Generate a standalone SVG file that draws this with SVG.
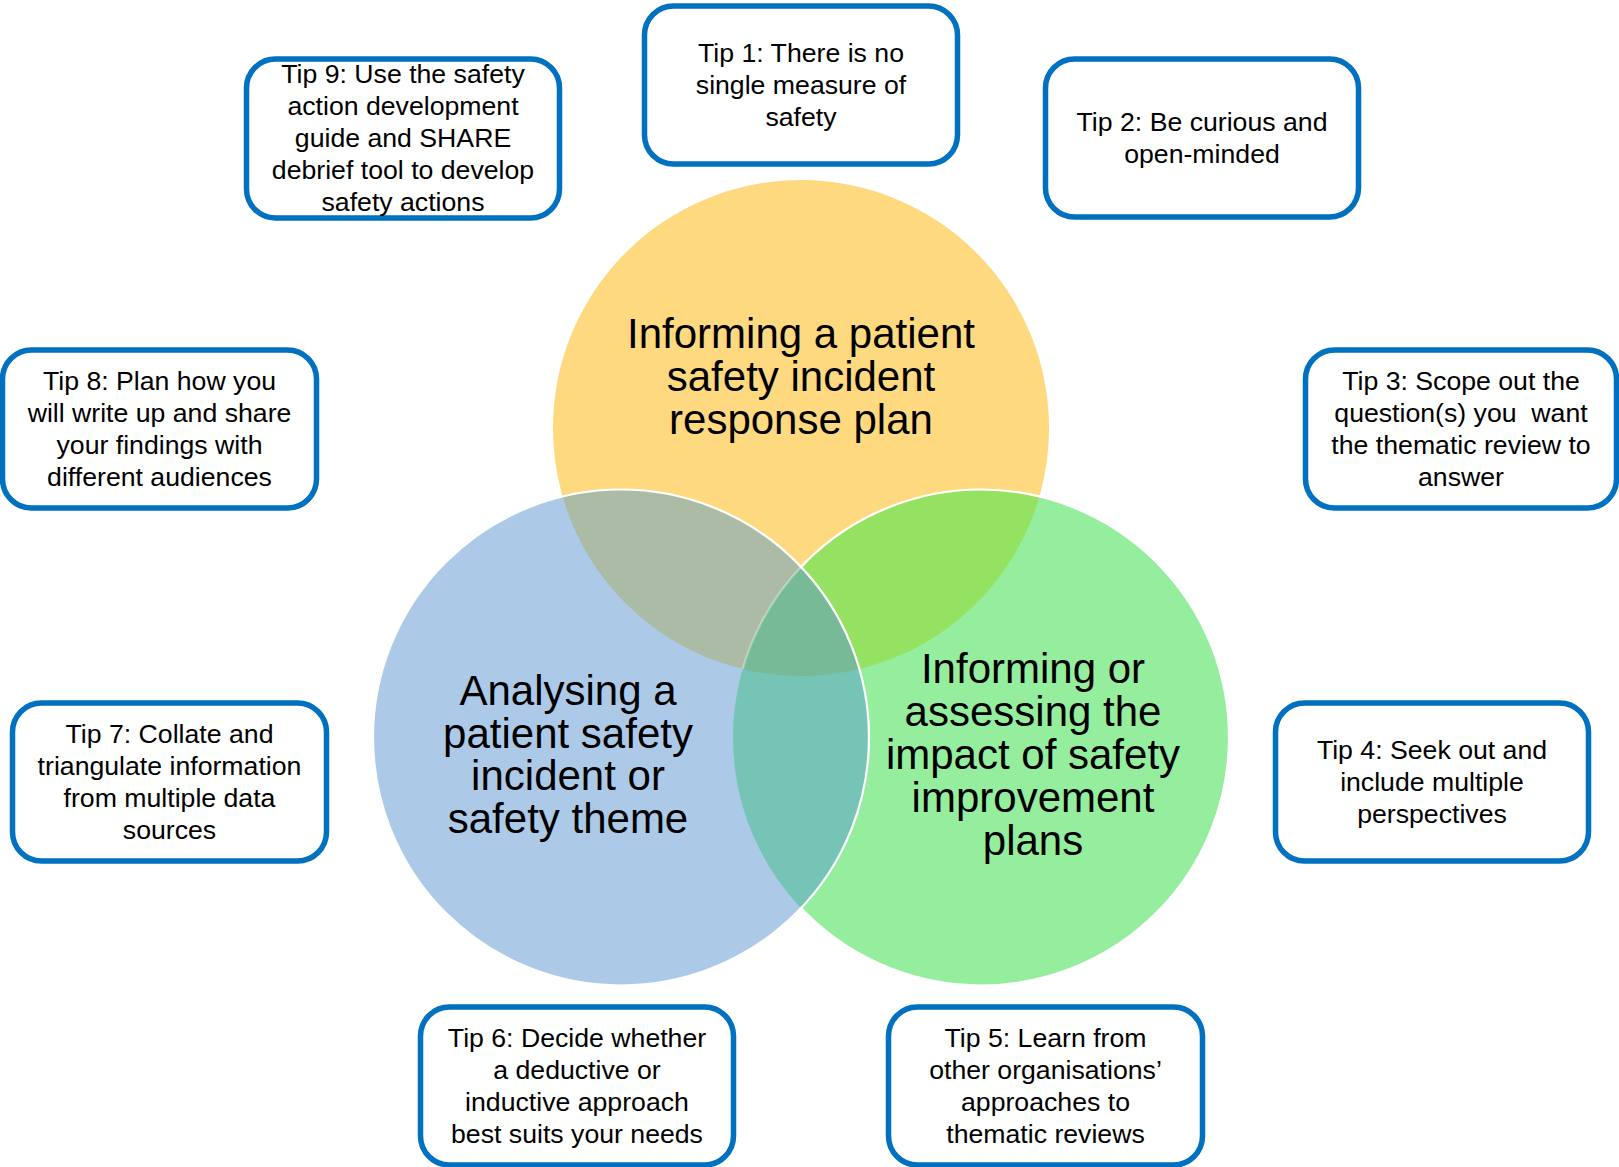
<svg xmlns="http://www.w3.org/2000/svg" width="1619" height="1167" viewBox="0 0 1619 1167">
  <defs>
    <clipPath id="clipY"><circle cx="801" cy="428" r="248"/></clipPath>
    <clipPath id="clipB"><circle cx="621" cy="737.5" r="248"/></clipPath>
    <clipPath id="clipG"><circle cx="981" cy="737.5" r="248"/></clipPath>
    <mask id="outsideB">
      <rect width="1619" height="1167" fill="#fff"/>
      <circle cx="621" cy="737.5" r="247" fill="#000"/>
    </mask>
  </defs>
  <style>
    .tip rect { fill: #fff; stroke: #0070C0; stroke-width: 5.5; }
    .tip text { font-family: "Liberation Sans", Arial, sans-serif; font-size: 26.67px; fill: #000; text-anchor: middle; }
    .venn text { font-family: "Liberation Sans", Arial, sans-serif; font-size: 42px; fill: #000; text-anchor: middle; }
    .edge { fill: none; stroke: #fff; stroke-width: 2.2; }
  </style>

  <rect width="1619" height="1167" fill="#fff"/>

  <!-- Venn diagram: three overlapping circles -->
  <g id="venn" class="venn">
    <g id="region-fills">
      <circle cx="801" cy="428" r="248" fill="#FFD980"/>
      <circle cx="981" cy="737.5" r="248" fill="#95EE9E"/>
      <circle cx="621" cy="737.5" r="248" fill="#ACCAE8"/>
      <!-- pairwise overlaps -->
      <circle cx="621" cy="737.5" r="248" fill="#ABBBA6" clip-path="url(#clipY)"/>
      <circle cx="981" cy="737.5" r="248" fill="#95E162" clip-path="url(#clipY)"/>
      <circle cx="981" cy="737.5" r="248" fill="#76C4B6" clip-path="url(#clipB)"/>
      <!-- centre, common to all three -->
      <g clip-path="url(#clipY)">
        <circle cx="981" cy="737.5" r="248" fill="#77BA98" clip-path="url(#clipB)"/>
      </g>
    </g>
    <g id="region-edges">
      <circle class="edge" cx="981" cy="737.5" r="248" mask="url(#outsideB)"/>
      <g clip-path="url(#clipY)">
        <circle class="edge" cx="981" cy="737.5" r="248" clip-path="url(#clipB)" stroke-opacity="0.35"/>
      </g>
      <circle class="edge" cx="621" cy="737.5" r="248"/>
    </g>

    <g id="circle-plan">
      <text x="801" y="348">Informing a patient</text>
      <text x="801" y="391">safety incident</text>
      <text x="801" y="434">response plan</text>
    </g>
    <g id="circle-analysing">
      <text x="568" y="705">Analysing a</text>
      <text x="568" y="748">patient safety</text>
      <text x="568" y="790">incident or</text>
      <text x="568" y="833">safety theme</text>
    </g>
    <g id="circle-impact">
      <text x="1033" y="683">Informing or</text>
      <text x="1033" y="726">assessing the</text>
      <text x="1033" y="769">impact of safety</text>
      <text x="1033" y="812">improvement</text>
      <text x="1033" y="855">plans</text>
    </g>
  </g>

  <!-- no connecting lines in this figure -->
  <g id="connectors"/>

  <!-- Tip boxes -->
  <g id="tip1" class="tip">
    <rect x="644.5" y="6" width="313" height="158" rx="29"/>
    <text x="801" y="62">Tip 1: There is no</text>
    <text x="801" y="94">single measure of</text>
    <text x="801" y="126">safety</text>
  </g>
  <g id="tip2" class="tip">
    <rect x="1045.5" y="59" width="313" height="158" rx="29"/>
    <text x="1202" y="131">Tip 2: Be curious and</text>
    <text x="1202" y="163">open-minded</text>
  </g>
  <g id="tip3" class="tip">
    <rect x="1305.5" y="350" width="311" height="158" rx="29"/>
    <text x="1461" y="390">Tip 3: Scope out the</text>
    <text x="1461" y="422">question(s) you&#160; want</text>
    <text x="1461" y="454">the thematic review to</text>
    <text x="1461" y="486">answer</text>
  </g>
  <g id="tip4" class="tip">
    <rect x="1275.5" y="703" width="313" height="158" rx="29"/>
    <text x="1432" y="759">Tip 4: Seek out and</text>
    <text x="1432" y="791">include multiple</text>
    <text x="1432" y="823">perspectives</text>
  </g>
  <g id="tip5" class="tip">
    <rect x="888.5" y="1007" width="314" height="158" rx="29"/>
    <text x="1045.5" y="1047">Tip 5: Learn from</text>
    <text x="1045.5" y="1079">other organisations’</text>
    <text x="1045.5" y="1111">approaches to</text>
    <text x="1045.5" y="1143">thematic reviews</text>
  </g>
  <g id="tip6" class="tip">
    <rect x="420.5" y="1007" width="313" height="158" rx="29"/>
    <text x="577" y="1047">Tip 6: Decide whether</text>
    <text x="577" y="1079">a deductive or</text>
    <text x="577" y="1111">inductive approach</text>
    <text x="577" y="1143">best suits your needs</text>
  </g>
  <g id="tip7" class="tip">
    <rect x="12.5" y="703" width="314" height="158" rx="29"/>
    <text x="169.5" y="743">Tip 7: Collate and</text>
    <text x="169.5" y="775">triangulate information</text>
    <text x="169.5" y="807">from multiple data</text>
    <text x="169.5" y="839">sources</text>
  </g>
  <g id="tip8" class="tip">
    <rect x="2.5" y="350" width="314" height="158" rx="29"/>
    <text x="159.5" y="390">Tip 8: Plan how you</text>
    <text x="159.5" y="422">will write up and share</text>
    <text x="159.5" y="454">your findings with</text>
    <text x="159.5" y="486">different audiences</text>
  </g>
  <g id="tip9" class="tip">
    <rect x="246.5" y="59" width="313" height="159" rx="29"/>
    <text x="403" y="83">Tip 9: Use the safety</text>
    <text x="403" y="115">action development</text>
    <text x="403" y="147">guide and SHARE</text>
    <text x="403" y="179">debrief tool to develop</text>
    <text x="403" y="211">safety actions</text>
  </g>
</svg>
